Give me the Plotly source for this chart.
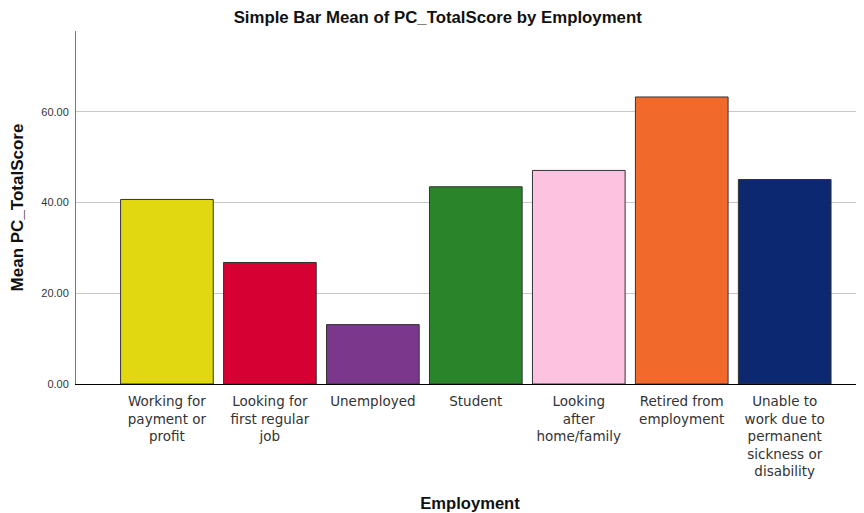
import plotly.graph_objects as go

categories = [
    "Working for<br>payment or<br>profit",
    "Looking for<br>first regular<br>job",
    "Unemployed",
    "Student",
    "Looking<br>after<br>home/family",
    "Retired from<br>employment",
    "Unable to<br>work due to<br>permanent<br>sickness or<br>disability",
]
mean_scores = [40.7, 26.8, 13.1, 43.5, 47.1, 63.3, 45.1]
bar_colors = ["#E1D812", "#D70033", "#7A378B", "#2A842A", "#FDC2E0", "#F26A2B", "#0B2870"]
y_ticks = [0, 20, 40, 60]

fig = go.Figure(
    go.Bar(
        x=list(range(len(categories))),
        y=mean_scores,
        marker=dict(color=bar_colors, line=dict(color="#333333", width=1)),
        width=0.9,
    )
)

fig.update_layout(
    width=856,
    height=505,
    margin=dict(l=68, r=0, t=23, b=129),
    paper_bgcolor="white",
    plot_bgcolor="white",
    showlegend=False,
    font=dict(family="Liberation Sans, Arial, sans-serif", color="#222222"),
    title=dict(
        text="<b>Simple Bar Mean of PC_TotalScore by Employment</b>",
        x=0.502,
        xanchor="center",
        y=1 - 9 / 505,
        yanchor="middle",
        font=dict(size=16.8, color="#111111"),
    ),
    xaxis=dict(
        tickmode="array",
        tickvals=list(range(len(categories))),
        ticktext=categories,
        range=[-0.883, 6.77],
        showgrid=False,
        showline=True,
        linecolor="#000000",
        linewidth=1,
        ticks="",
        tickangle=0,
        ticklabelstandoff=5,
        tickfont=dict(family="DejaVu Sans, sans-serif", size=13.5, color="#333333"),
        title=dict(text="<b>Employment</b>", font=dict(size=16.6, color="#111111"), standoff=23),
        automargin=False,
        zeroline=False,
    ),
    yaxis=dict(
        range=[0, 77.85],
        tickvals=y_ticks,
        tickformat=".2f",
        showgrid=True,
        gridcolor="#C8C8C8",
        gridwidth=1,
        showline=True,
        linecolor="#777777",
        linewidth=1,
        ticks="",
        ticklabelstandoff=4,
        tickfont=dict(size=11, color="#333333"),
        title=dict(text="<b>Mean PC_TotalScore</b>", font=dict(size=17, color="#111111"), standoff=19),
        automargin=False,
        zeroline=False,
    ),
)

fig.write_html("out.html")
